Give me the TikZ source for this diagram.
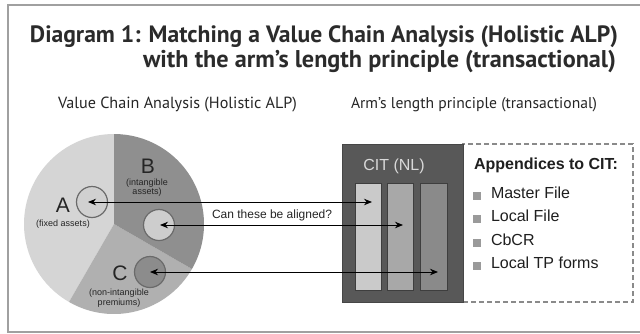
\documentclass[tikz,border=0pt]{standalone}
\usepackage{fontspec}
\setmainfont{Liberation Sans}
\newfontfamily\ptsans{PT Sans}
\usepackage{graphicx}
\usetikzlibrary{arrows.meta,calc}
\definecolor{pieA}{HTML}{D5D5D5}
\definecolor{pieB}{HTML}{8F8F8F}
\definecolor{pieC}{HTML}{B0B0B0}
\definecolor{ringA}{HTML}{D0D0D0}
\definecolor{ringB}{HTML}{CDCDCD}
\definecolor{ringC}{HTML}{8C8C8C}
\definecolor{ringline}{HTML}{6A6A6A}
\definecolor{citbox}{HTML}{585858}
\definecolor{barA}{HTML}{CACACA}
\definecolor{barB}{HTML}{A8A8A8}
\definecolor{barC}{HTML}{8A8A8A}
\definecolor{barline}{HTML}{3E3E3E}
\definecolor{dashgray}{HTML}{8A8A8A}
\definecolor{framegray}{HTML}{A0A0A0}
\definecolor{bulgray}{HTML}{9A9A9A}
\definecolor{titletext}{HTML}{2B2B2B}
\definecolor{labtext}{HTML}{252525}
\newdimen\fitwd
\newcommand\fitto[2]{\setbox0=\hbox{#2}\fitwd=\wd0\pgfmathsetmacro\fitfac{#1/\fitwd}\scalebox{\fitfac}{\box0}}
\begin{document}
\begin{tikzpicture}[x=1pt,y=-1pt,
  txt/.style={inner sep=0pt, outer sep=0pt},
  barbox/.style={draw=barline, line width=1pt, inner sep=0pt, outer sep=0pt, minimum height=107pt},
  link/.style={draw=black, line width=1pt, {Stealth[length=8pt,width=6.5pt]}-{Stealth[length=8pt,width=6.5pt]}},
  ring/.style={circle, draw=ringline, line width=1.2pt, minimum size=31pt, inner sep=0pt},
  small/.style={txt, anchor=base, font=\fontsize{9}{10}\selectfont, text=labtext},
  big/.style={txt, anchor=base, font=\fontsize{21}{22}\selectfont, text=labtext},
  item/.style={txt, anchor=base west, font=\fontsize{16}{18}\selectfont, text=black!88},
  bul/.style={fill=bulgray, minimum size=8pt, inner sep=0pt},
  title/.style={txt, font=\ptsans\bfseries\fontsize{20}{24}\selectfont, text=titletext},
  sub/.style={txt, anchor=base west, font=\ptsans\fontsize{14}{16}\selectfont, text=black!85},
]
\useasboundingbox (0,0) rectangle (640,333);
\fill[white] (0,0) rectangle (640,333);
\draw[framegray, line width=1.5pt] (8,5) rectangle (645,332);

% titles
\node[title, anchor=base west] (t1) at (30,42) {\fitto{588}{Diagram 1: Matching a Value Chain Analysis (Holistic ALP)}};
\node[title, anchor=base east] (t2) at (616,67) {\fitto{473}{with the arm’s length principle (transactional)}};
\node[sub] (s1) at (58,108) {\fitto{239}{Value Chain Analysis (Holistic ALP)}};
\node[sub] (s2) at (351,108) {\fitto{246}{Arm’s length principle (transactional)}};

% pie
\coordinate (pc) at (114,224);
\fill[pieA] (pc) -- ++(-90:90) arc[start angle=-90, end angle=-240, radius=90] -- cycle;
\fill[pieC] (pc) -- ++(-240:90) arc[start angle=-240, end angle=-330, radius=90] -- cycle;
\fill[pieB] (pc) -- ++(30:90) arc[start angle=30, end angle=-90, radius=90] -- cycle;

\node[ring, fill=ringA] (cA) at (92,202) {};
\node[ring, fill=ringB] (cB) at (159,225) {};
\node[ring, fill=ringC] (cC) at (150,272) {};

\node[big] (lA) at (63,212) {A};
\node[small] (lA1) at (63,226) {(fixed assets)};
\node[big] (lB) at (148,173) {B};
\node[small] (lB1) at (147,185) {(intangible};
\node[small] (lB2) at (147,194) {assets)};
\node[big] (lC) at (120,280) {C};
\node[small] (lC1) at (119,295) {(non-intangible};
\node[small] (lC2) at (119,305) {premiums)};

% right boxes
\node[draw=dashgray, dash pattern=on 5pt off 3pt, line width=1.2pt, minimum width=170pt, minimum height=158pt, inner sep=0pt] (app) at (548,223) {};
\node[fill=citbox, draw=citbox!80!black, line width=0.8pt, minimum width=121pt, minimum height=158pt, inner sep=0pt] (cit) at (402.5,223) {};
\node[txt, anchor=base, font=\fontsize{16}{18}\selectfont, text=white!85!black] (citl) at (394,170) {CIT (NL)};
\node[barbox, fill=barA, minimum width=26pt] (bar1) at (368,236.5) {};
\node[barbox, fill=barB, minimum width=26pt] (bar2) at (400,236.5) {};
\node[barbox, fill=barC, minimum width=27pt] (bar3) at (433.5,236.5) {};

\node[txt, anchor=base west, font=\bfseries\fontsize{16}{18}\selectfont, text=black!88] (apph) at (474,169) {Appendices to CIT:};
\node[item] (i1) at (491,198) {Master File};
\node[item] (i2) at (491,221.5) {Local File};
\node[item] (i3) at (491,245) {CbCR};
\node[item] (i4) at (491,268.5) {Local TP forms};
\node[bul] (b1) at (477,195.5) {};
\node[bul] (b2) at (477,219) {};
\node[bul] (b3) at (477,242.5) {};
\node[bul] (b4) at (477,266) {};

% connectors
\node[txt, anchor=base west, font=\fontsize{12}{14}\selectfont, text=labtext] (q) at (212,218) {Can these be aligned?};
\draw[link] ($(cA.center)+(-4,0)$) -- ($(bar1.center|-cA.center)+(4,0)$);
\draw[link] ($(cB.center)+(1,0)$) -- ($(bar2.center|-cB.center)+(3,0)$);
\draw[link] (cC.center) -- ($(bar3.center|-cC.center)+(4.5,0)$);
\end{tikzpicture}
\end{document}
